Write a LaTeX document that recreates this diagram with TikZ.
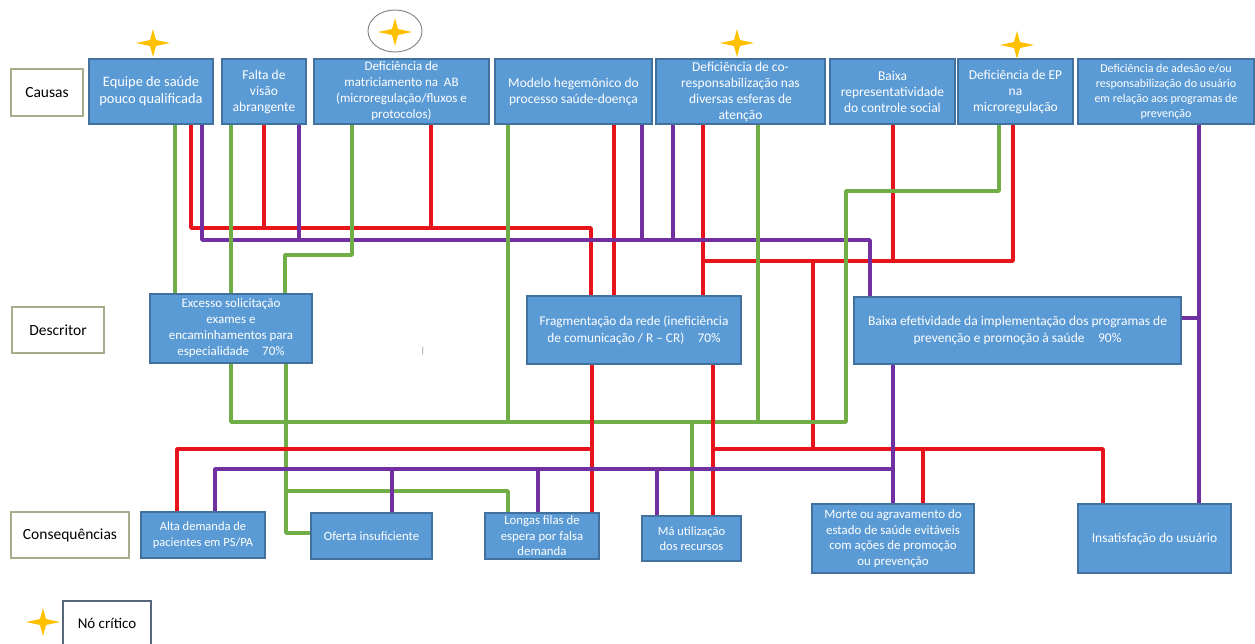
\documentclass[tikz,border=0pt]{standalone}
\usepackage{fontspec}
\setmainfont{Carlito}
\usetikzlibrary{backgrounds}
\definecolor{boxblue}{HTML}{5B9BD5}
\definecolor{boxedge}{HTML}{41719C}
\definecolor{lgreen}{HTML}{70AD47}
\definecolor{lred}{HTML}{E8141B}
\definecolor{lpurple}{HTML}{7030A0}
\definecolor{starc}{HTML}{FFC000}
\definecolor{lbledge}{HTML}{A5AD8A}
\definecolor{keyedge}{HTML}{56687A}
\begin{document}
\begin{tikzpicture}[x=1pt,y=-1pt,
 bbox/.style={draw=boxedge, line width=1.2pt, fill=boxblue, text=white, align=center, inner sep=1pt, font=\fontsize{13.5}{16}\selectfont},
 lbl/.style={draw=lbledge, line width=1.5pt, fill=white, inner sep=0pt, font=\fontsize{15.5}{18}\selectfont},
 conn/.style={line width=3.6pt, line join=round},
 gl/.style={conn, draw=lgreen},
 rl/.style={conn, draw=lred},
 pl/.style={conn, draw=lpurple},
 cstar/.pic={\fill[starc] (-17,0) -- (-3,-3) -- (0,-14) -- (3,-3) -- (17,0) -- (3,3) -- (0,14) -- (-3,3) -- cycle;}
]
\useasboundingbox (0,0) rectangle (1255,643);
\clip (0,0) rectangle (1255,643);

% row labels
\node[lbl, minimum width=72pt, minimum height=47pt] (lcausas) at (47,92.5) {Causas};
\node[lbl, minimum width=92pt, minimum height=46pt] (ldesc) at (58,330) {Descritor};
\node[lbl, minimum width=118pt, minimum height=46pt] (lcons) at (70,535) {Consequências};
\node[lbl, draw=keyedge, minimum width=88pt, minimum height=44pt, font=\fontsize{15}{18}\selectfont] (lkey) at (107,623) {Nó crítico};

% causes
\node[bbox, minimum width=124pt, minimum height=65pt, font=\fontsize{14.4}{17}\selectfont] (c1) at (151,91.5) {Equipe de saúde\\pouco qualificada};
\node[bbox, minimum width=84pt, minimum height=65pt] (c2) at (264,91.5) {Falta de\\visão\\abrangente};
\node[bbox, minimum width=175pt, minimum height=65pt, font=\fontsize{13}{16}\selectfont] (c3) at (401.5,91.5) {Deficiência de\\matriciamento na~~AB\\(microregulação/fluxos e\\protocolos)};
\node[bbox, minimum width=157pt, minimum height=65pt] (c4) at (573.5,91.5) {Modelo hegemônico do\\processo saúde-doença};
\node[bbox, minimum width=169pt, minimum height=65pt] (c5) at (740.5,91.5) {Deficiência de co-\\responsabilização nas\\diversas esferas de\\atenção};
\node[bbox, minimum width=125pt, minimum height=65pt] (c6) at (892.5,91.5) {Baixa\\representatividade\\do controle social};
\node[bbox, minimum width=115pt, minimum height=65pt] (c7) at (1015.5,91.5) {Deficiência de EP\\na\\microregulação};
\node[bbox, minimum width=176pt, minimum height=65pt, font=\fontsize{12}{15}\selectfont] (c8) at (1166,91.5) {Deficiência de adesão e/ou\\responsabilização do usuário\\em relação aos programas de\\prevenção};

% descriptors
\node[bbox, minimum width=162pt, minimum height=69pt, font=\fontsize{13}{16}\selectfont] (d1) at (231,328.5) {Excesso solicitação\\exames e\\encaminhamentos para\\especialidade\quad 70\%};
\node[bbox, minimum width=214pt, minimum height=68pt, font=\fontsize{13.3}{17}\selectfont] (d2) at (634,330) {Fragmentação da rede (ineficiência\\de comunicação / R – CR)\quad 70\%};
\node[bbox, minimum width=327pt, minimum height=67pt, font=\fontsize{13.5}{16.5}\selectfont] (d3) at (1017.5,330.5) {Baixa efetividade da implementação dos programas de\\prevenção e promoção à saúde\quad 90\%};

% consequences
\node[bbox, minimum width=124pt, minimum height=46pt, font=\fontsize{12.5}{16}\selectfont] (q1) at (203,535) {Alta demanda de\\pacientes em PS/PA};
\node[bbox, minimum width=121pt, minimum height=46pt, font=\fontsize{12.7}{16}\selectfont] (q2) at (371.5,536) {Oferta insuficiente};
\node[bbox, minimum width=114pt, minimum height=46pt, font=\fontsize{12.8}{15.5}\selectfont] (q3) at (542,536) {Longas filas de\\espera por falsa\\demanda};
\node[bbox, minimum width=99pt, minimum height=45pt, font=\fontsize{12.5}{15}\selectfont] (q4) at (691.5,538.5) {Má utilização\\dos recursos};
\node[bbox, minimum width=162pt, minimum height=69pt, font=\fontsize{12.9}{15.7}\selectfont] (q5) at (893,538.5) {Morte ou agravamento do\\estado de saúde evitáveis\\com ações de promoção\\ou prevenção};
\node[bbox, minimum width=153pt, minimum height=69pt] (q6) at (1154.5,538.5) {Insatisfação do usuário};

% stray mark
\node[text=gray, inner sep=0pt, font=\fontsize{9}{9}\selectfont] (mark) at (423,351) {|};

% critical-node stars
\path pic at (153,43) {cstar};
\path pic at (395,32) {cstar};
\path pic at (737,43) {cstar};
\path pic at (1017,45) {cstar};
\path pic at (43,622) {cstar};
\draw[gray, line width=0.9pt] (395,31) ellipse [x radius=27, y radius=21];

\begin{pgfonlayer}{background}
% red net: causes -> fragmentacao
\draw[rl] (c1.south -| 191,0) -- (191,228) -| (d2.north -| 591,0);
\draw[rl] (c2.south -| 264,0) -- (264,228);
\draw[rl] (c3.south -| 431,0) -- (431,228);
\draw[rl] (c4.south -| 614,0) -- (d2.north -| 614,0);
\draw[rl] (c5.south -| 703,0) -- (d2.north -| 703,0);
\draw[rl] (703,261) -| (c7.south -| 1013,0);
\draw[rl] (c6.south -| 893,0) -- (893,261);
\draw[rl] (813,261) -- (813,449);
% purple net: causes -> baixa efetividade
\draw[pl] (c1.south -| 202,0) -- (202,240) -| (d3.north -| 870,0);
\draw[pl] (c2.south -| 299,0) -- (299,240);
\draw[pl] (c4.south -| 642,0) -- (642,240);
\draw[pl] (c5.south -| 673,0) -- (673,240);
\draw[pl] (c8.south -| 1199,0) -- (q6.north -| 1199,0);
\draw[pl] (d3.east |- 0,318) -- (1199,318);
% green net: causes -> excesso
\draw[gl] (c1.south -| 175,0) -- (d1.north -| 175,0);
\draw[gl] (c2.south -| 231,0) -- (d1.north -| 231,0);
\draw[gl] (c3.south -| 352,0) -- (352,255) -| (d1.north -| 285,0);
\draw[gl] (d1.south -| 231,0) -- (231,422) -| (846,191) -| (c7.south -| 999,0);
\draw[gl] (c4.south -| 508,0) -- (508,422);
\draw[gl] (c5.south -| 758,0) -- (758,422);
\draw[gl] (692,422) -- (q4.north -| 692,0);
\draw[gl] (d1.south -| 286,0) -- (286,533) -- (q2.west |- 0,533);
\draw[gl] (286,491) -| (q3.north -| 508,0);
% red: fragmentacao -> consequences
\draw[rl] (d2.south -| 592,0) -- (q3.north -| 592,0);
\draw[rl] (q1.north -| 177,0) |- (592,449);
\draw[rl] (d2.south -| 713,0) -- (q4.north -| 713,0);
\draw[rl] (713,449) -| (q6.north -| 1103,0);
\draw[rl] (923,449) -- (q5.north -| 923,0);
% purple: baixa efetividade -> consequences
\draw[pl] (d3.south -| 893,0) -- (q5.north -| 893,0);
\draw[pl] (q1.north -| 215,0) |- (893,469);
\draw[pl] (392,469) -- (q2.north -| 392,0);
\draw[pl] (538,469) -- (q3.north -| 538,0);
\draw[pl] (657,469) -- (q4.north -| 657,0);
\end{pgfonlayer}
\end{tikzpicture}
\end{document}
